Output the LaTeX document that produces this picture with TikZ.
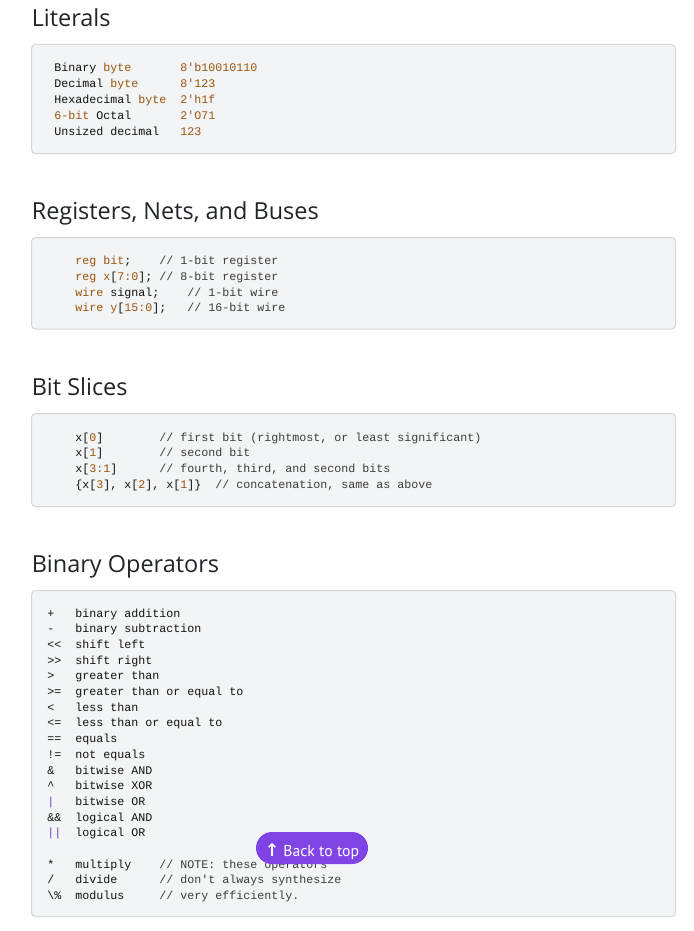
\documentclass[tikz,border=0pt]{standalone}
\usepackage{fontspec}
\setmainfont{Open Sans}
\setmonofont{Liberation Mono}
\newfontfamily\btnfont{PT Sans}
\newfontfamily\arrowfont{DejaVu Sans}

\definecolor{headtext}{RGB}{33,37,41}
\definecolor{codetext}{RGB}{18,18,18}
\definecolor{cmtgray}{RGB}{60,60,60}
\definecolor{kwdbrown}{RGB}{155,85,15}
\definecolor{oprpurple}{RGB}{111,66,193}
\definecolor{boxfill}{RGB}{243,244,246}
\definecolor{boxline}{RGB}{212,215,220}
\definecolor{btnpurple}{RGB}{129,68,228}

\newcommand\kwd[1]{\textcolor{kwdbrown}{#1}}
\newcommand\cmt[1]{\textcolor{cmtgray}{#1}}
\newcommand\opr[1]{\textcolor{oprpurple}{#1}}

\tikzset{
  heading/.style={anchor=base west,inner sep=0pt,text=headtext,font=\fontsize{17.6pt}{20pt}\selectfont},
  codebox/.style={draw=boxline,fill=boxfill,rounded corners=3pt,line width=0.75pt},
  codeline/.style={anchor=base west,inner sep=0pt,text=codetext,font=\ttfamily\fontsize{8.75pt}{10pt}\selectfont},
  backtop/.style={fill=btnpurple,text=white,rounded corners=12pt,minimum width=84pt,minimum height=24pt,inner sep=0pt,text height=13pt,text depth=0pt,font=\btnfont\fontsize{11.8pt}{13pt}\selectfont}
}

\begin{document}
\begin{tikzpicture}[x=0.75pt,y=-0.75pt]
  \useasboundingbox (0,0) rectangle (693,931);
  \fill[white] (0,0) rectangle (693,931);
  % Headings
  \node[heading] (hlit) at (31.5,26.7) {Literals};
  \node[heading] (hreg) at (31.5,219.7) {Registers, Nets, and Buses};
  \node[heading] (hbit) at (31.5,395.7) {Bit Slices};
  \node[heading] (hop) at (31.5,572.7) {Binary Operators};
  % Code boxes
  \draw[codebox] (31.5,44.5) rectangle (675.5,153.5);
  \draw[codebox] (31.5,237.5) rectangle (675.5,329);
  \draw[codebox] (31.5,413.5) rectangle (675.5,506.5);
  \draw[codebox] (31.5,590.5) rectangle (675.5,916.5);
  % Literals
  \foreach \i/\t in {0/{Binary \kwd{byte}~~~~~~~\kwd{8'b10010110}},
                     1/{Decimal \kwd{byte}~~~~~~\kwd{8'123}},
                     2/{Hexadecimal \kwd{byte}~~\kwd{2'h1f}},
                     3/{\kwd{6-bit} Octal~~~~~~~\kwd{2'O71}},
                     4/{Unsized decimal~~~\kwd{123}}}
    \node[codeline] (lit\i) at (54,{72+15.75*\i}) {\t};
  % Registers, nets, buses
  \foreach \i/\t in {0/{\kwd{reg bit};~~~~\cmt{// 1-bit register}},
                     1/{\kwd{reg x}[\kwd{7:0}]; \cmt{// 8-bit register}},
                     2/{\kwd{wire} signal;~~~~\cmt{// 1-bit wire}},
                     3/{\kwd{wire y}[\kwd{15:0}];~~~\cmt{// 16-bit wire}}}
    \node[codeline] (reg\i) at (75,{264.5+15.75*\i}) {\t};
  % Bit slices
  \foreach \i/\t in {0/{x[\kwd{0}]~~~~~~~~\cmt{// first bit (rightmost, or least significant)}},
                     1/{x[\kwd{1}]~~~~~~~~\cmt{// second bit}},
                     2/{x[\kwd{3:1}]~~~~~~\cmt{// fourth, third, and second bits}},
                     3/{\{x[\kwd{3}], x[\kwd{2}], x[\kwd{1}]\}~~\cmt{// concatenation, same as above}}}
    \node[codeline] (bit\i) at (75,{441+15.75*\i}) {\t};
  % Binary operators
  \foreach \i/\t in {0/{+~~~binary addition},
                     1/{-~~~binary subtraction},
                     2/{<<~~shift left},
                     3/{>>~~shift right},
                     4/{>~~~greater than},
                     5/{>=~~greater than or equal to},
                     6/{<~~~less than},
                     7/{<=~~less than or equal to},
                     8/{==~~equals},
                     9/{!=~~not equals},
                     10/{\&~~~bitwise AND},
                     11/{\textasciicircum~~~bitwise XOR},
                     12/{\opr{|}~~~bitwise OR},
                     13/{\&\&~~logical AND},
                     14/{\opr{||}~~logical OR},
                     16/{*~~~multiply~~~~\cmt{// NOTE: these operators}},
                     17/{/~~~divide~~~~~~\cmt{// don't always synthesize}},
                     18/{\textbackslash\%~~modulus~~~~~\cmt{// very efficiently.}}}
    \node[codeline] (op\i) at (47,{617+15.7*\i}) {\t};
  % Back to top button
  \node[backtop] (totop) at (312,848) {{\arrowfont\bfseries\fontsize{13pt}{14pt}\selectfont ↑}\hspace{3pt}Back to top};
\end{tikzpicture}
\end{document}
